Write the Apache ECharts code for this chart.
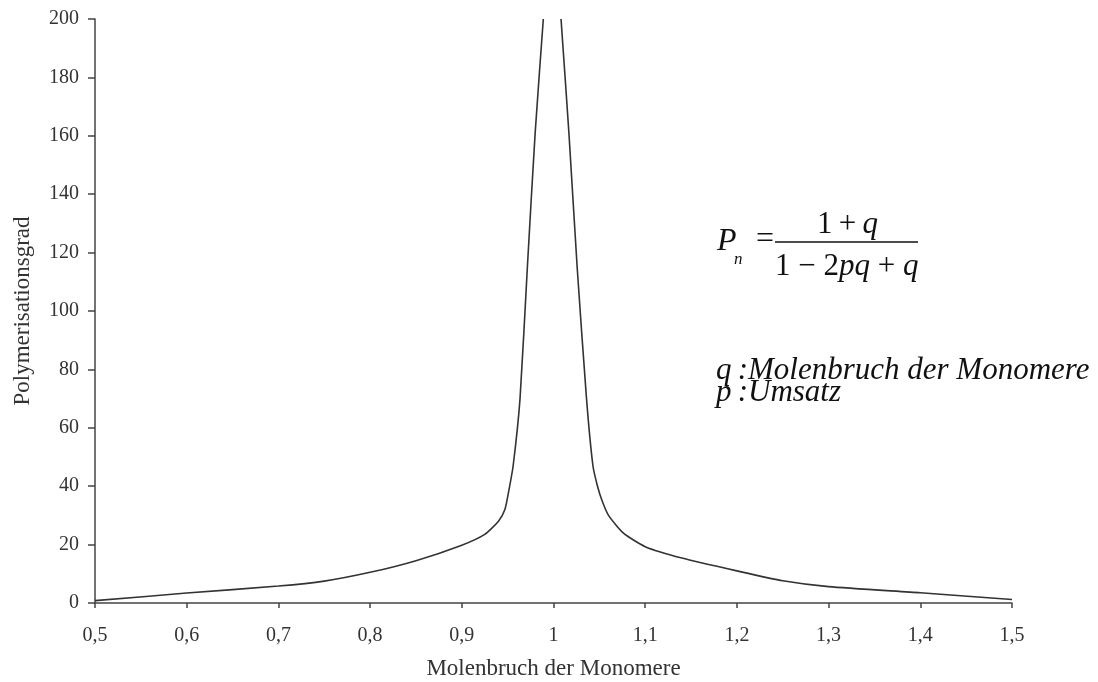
<!DOCTYPE html>
<html>
<head>
<meta charset="utf-8">
<script src="https://cdn.jsdelivr.net/npm/echarts@6/dist/echarts.min.js"></script>
<style>
  html, body { margin: 0; padding: 0; background: #fff; }
  #main { width: 1098px; height: 682px; }
</style>
</head>
<body>
<div id="main"></div>
<script>
// left branch (q < 1) and right branch (q > 1)
var leftX = [0.5, 0.6, 0.7, 0.75, 0.8, 0.85, 0.9, 0.925, 0.94, 0.947, 0.951, 0.956, 0.9635, 0.9715, 0.980, 0.9889];
var leftY = [0.8, 3.4, 5.8, 7.5, 10.5, 14.5, 19.8, 23.5, 28, 32, 38, 47, 70, 115, 161, 200];
var rightX = [1.0082, 1.0168, 1.0258, 1.036, 1.043, 1.048, 1.053, 1.06, 1.076, 1.1, 1.14, 1.2, 1.25, 1.3, 1.4, 1.5];
var rightY = [200, 161, 115, 70, 47, 40, 35, 30, 24, 19.3, 15.4, 11, 7.6, 5.6, 3.5, 1.2];

var xName = 'Molenbruch der Monomere';
var yName = 'Polymerisationsgrad';

function pairs(xs, ys) {
	var res = [];
	for (var i = 0; i < xs.length; i++) {
		res.push([xs[i], ys[i]]);
	}
	return res;
}

var serif = '"Liberation Serif", "DejaVu Serif", serif';
var ink = '#333';
var rich = { i: { fontStyle: 'italic', fontSize: 31, fontFamily: serif, color: '#111' } };

var myChart = echarts.init(document.getElementById('main'));
myChart.setOption({
	animation: false,
	backgroundColor: '#fff',
	grid: { left: 95, right: 86, top: 19, bottom: 79, outerBoundsMode: 'none' },
	xAxis: {
		type: 'value',
		min: 0.5,
		max: 1.5,
		interval: 0.1,
		name: xName,
		nameLocation: 'middle',
		nameGap: 54,
		nameTextStyle: { fontFamily: serif, fontSize: 23, color: ink },
		splitLine: { show: false },
		axisLine: { lineStyle: { color: '#444', width: 1.5 } },
		axisTick: { length: 5, lineStyle: { color: '#444', width: 1.5 } },
		axisLabel: {
			margin: 23,
			fontFamily: serif,
			fontSize: 20,
			color: ink,
			formatter: function (v) { return String(+v.toFixed(1)).replace('.', ','); }
		}
	},
	yAxis: {
		type: 'value',
		min: 0,
		max: 200,
		interval: 20,
		name: yName,
		nameLocation: 'middle',
		nameGap: 61,
		nameTextStyle: { fontFamily: serif, fontSize: 23, color: ink },
		splitLine: { show: false },
		axisLine: { lineStyle: { color: '#444', width: 1.5 } },
		axisTick: { length: 7, lineStyle: { color: '#444', width: 1.5 } },
		axisLabel: { margin: 16, fontFamily: serif, fontSize: 20, color: ink }
	},
	graphic: [
		{
			type: 'text', left: 717, top: 226,
			style: { text: 'P', font: 'italic 32px ' + serif, fill: '#111' }
		},
		{
			type: 'text', left: 734, top: 251,
			style: { text: 'n', font: 'italic 17px ' + serif, fill: '#111' }
		},
		{
			type: 'text', left: 756, top: 224,
			style: { text: '=', font: '32px ' + serif, fill: '#111' }
		},
		{
			type: 'text', left: 817, top: 209,
			style: { text: '1\u2009+\u2009{i|q}', font: '31px ' + serif, fill: '#111', rich: rich }
		},
		{
			type: 'line',
			shape: { x1: 775, y1: 242, x2: 918, y2: 242 },
			style: { stroke: '#111', lineWidth: 1.5 }
		},
		{
			type: 'text', left: 775, top: 251,
			style: { text: '1 \u2212 2{i|pq} + {i|q}', font: '31px ' + serif, fill: '#111', rich: rich }
		},
		{
			type: 'text', left: 716, top: 355,
			style: { text: 'q\u2009:Molenbruch der Monomere', font: 'italic 31px ' + serif, fill: '#111' }
		},
		{
			type: 'text', left: 716, top: 377,
			style: { text: 'p\u2009:Umsatz', font: 'italic 31px ' + serif, fill: '#111' }
		}
	],
	series: [
		{
			type: 'line',
			data: pairs(leftX, leftY),
			showSymbol: false,
			smooth: 0.2,
			lineStyle: { color: ink, width: 1.6 }
		},
		{
			type: 'line',
			data: pairs(rightX, rightY),
			showSymbol: false,
			smooth: 0.2,
			lineStyle: { color: ink, width: 1.6 }
		}
	]
});
</script>
</body>
</html>
